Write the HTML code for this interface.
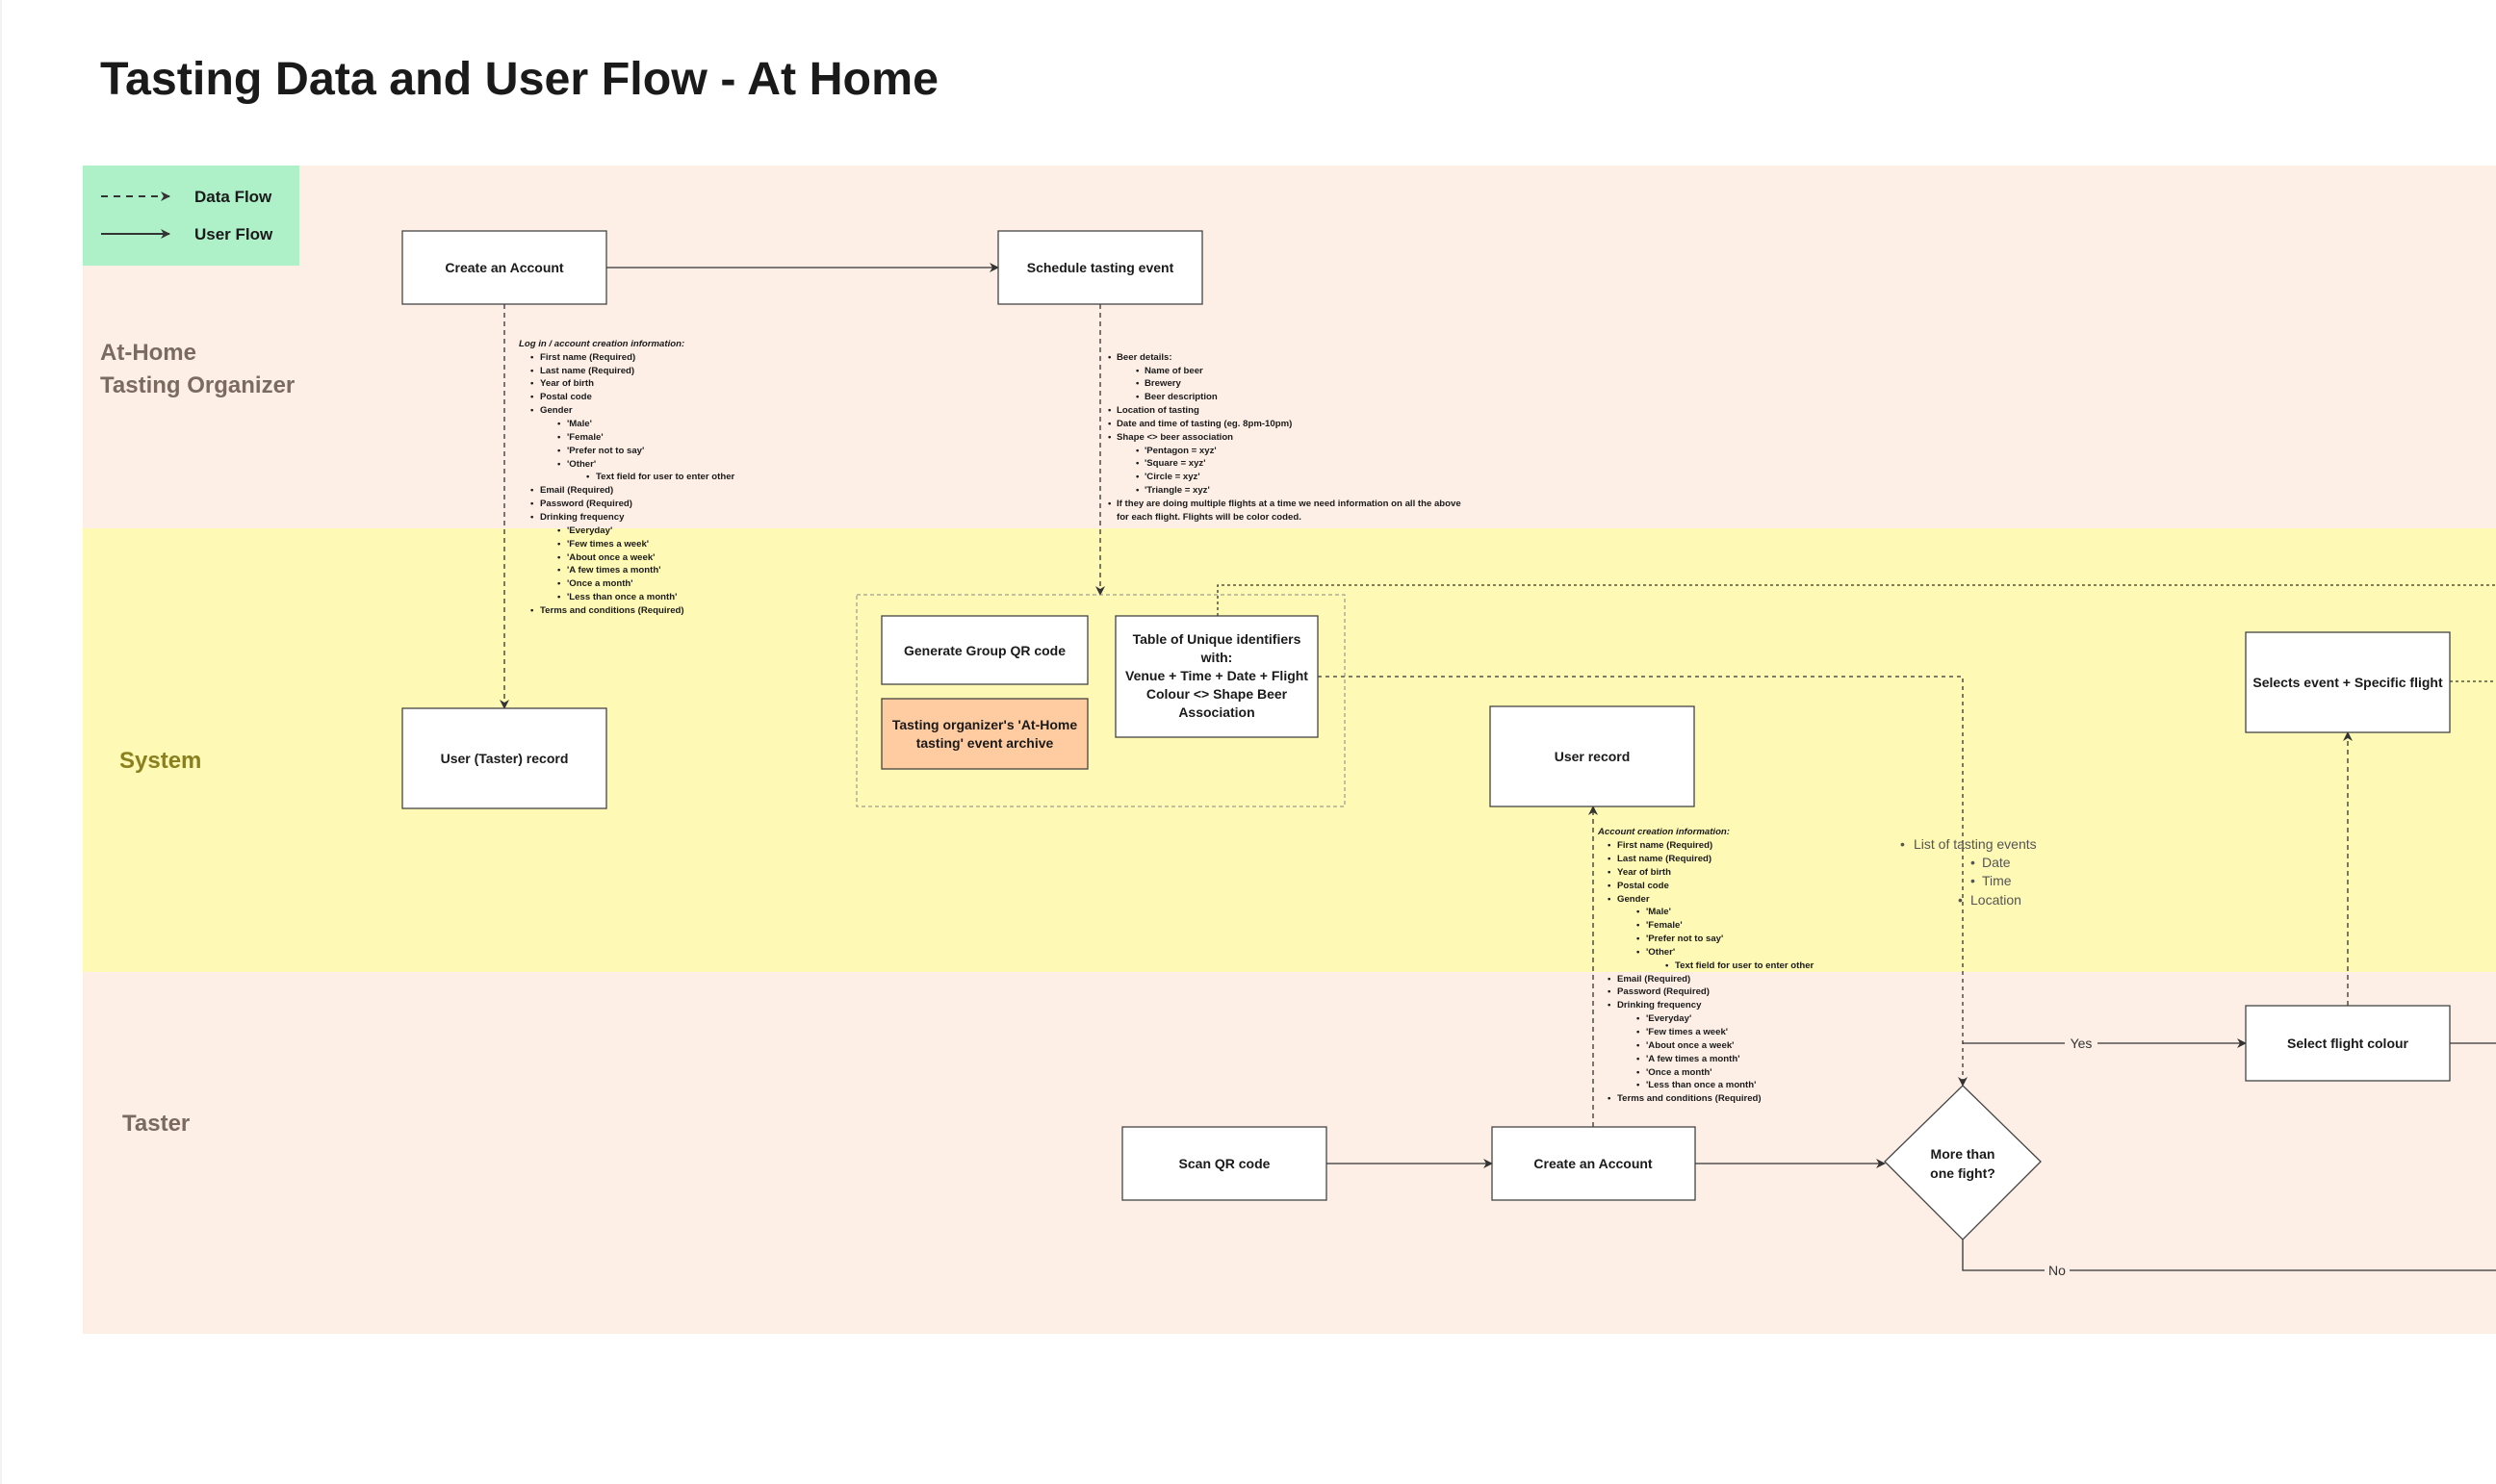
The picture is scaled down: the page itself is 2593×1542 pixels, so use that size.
<!DOCTYPE html>
<html><head><meta charset="utf-8"><style>
html,body{margin:0;padding:0;background:#fff}
svg{display:block}
text{font-family:"Liberation Sans",sans-serif}
.b{font-weight:bold;font-size:14px;fill:#1a1a1a}
.n{font-weight:bold;font-size:9.6px;fill:#1a1a1a}
</style></head><body>
<svg width="2593" height="1542" viewBox="0 0 2593 1542" xmlns="http://www.w3.org/2000/svg">
<defs>
<marker id="a" markerWidth="10" markerHeight="10" refX="9" refY="5" orient="auto" markerUnits="userSpaceOnUse"><path d="M0,0 L10,5 L0,10 L3,5 Z" fill="#333"/></marker>
</defs>
<line x1="1" y1="0" x2="1" y2="1542" stroke="#e6e6e6"/>
<text x="104" y="98" font-size="48" font-weight="bold" fill="#1a1a1a" textLength="871" lengthAdjust="spacingAndGlyphs">Tasting Data and User Flow - At Home</text>
<!-- lanes -->
<rect x="86" y="172" width="2507" height="377" fill="#fdefe6"/>
<rect x="86" y="549" width="2507" height="461" fill="#fef9b4"/>
<rect x="86" y="1010" width="2507" height="376" fill="#fdefe6"/>
<!-- legend -->
<rect x="86" y="172" width="225" height="104" fill="#aef0c8"/>
<line x1="105" y1="204" x2="176" y2="204" stroke="#333" stroke-width="2" stroke-dasharray="7,6" marker-end="url(#a)"/>
<line x1="105" y1="243" x2="176" y2="243" stroke="#333" stroke-width="2" marker-end="url(#a)"/>
<text x="202" y="210" font-size="17" font-weight="bold" fill="#1a1a1a">Data Flow</text>
<text x="202" y="249" font-size="17" font-weight="bold" fill="#1a1a1a">User Flow</text>
<!-- lane labels -->
<text x="104" y="374" font-size="24" font-weight="bold" fill="#7a6a60">At-Home</text>
<text x="104" y="408" font-size="24" font-weight="bold" fill="#7a6a60">Tasting Organizer</text>
<text x="124" y="798" font-size="24" font-weight="bold" fill="#8a8020">System</text>
<text x="127" y="1175" font-size="24" font-weight="bold" fill="#7a6a60">Taster</text>

<!-- connectors -->
<g fill="none" stroke="#333" stroke-width="1.3">
<line x1="630" y1="278" x2="1037" y2="278" marker-end="url(#a)"/>
<line x1="524" y1="316" x2="524" y2="736" stroke-dasharray="5,4" marker-end="url(#a)"/>
<line x1="1143" y1="316" x2="1143" y2="618" stroke-dasharray="5,4" marker-end="url(#a)"/>
<polyline points="1265,640 1265,608 2593,608" stroke-dasharray="3,3"/>
<polyline points="1369,703 2039,703 2039,1128" stroke-dasharray="4,4" marker-end="url(#a)"/>
<polyline points="2545,708 2593,708" stroke-dasharray="3,3"/>
<line x1="2439" y1="1045" x2="2439" y2="761" stroke-dasharray="5,4" marker-end="url(#a)"/>
<line x1="1655" y1="1171" x2="1655" y2="838" stroke-dasharray="5,4" marker-end="url(#a)"/>
<line x1="1378" y1="1209" x2="1550" y2="1209" marker-end="url(#a)"/>
<line x1="1761" y1="1209" x2="1958" y2="1209" marker-end="url(#a)"/>
<line x1="2039" y1="1084" x2="2333" y2="1084" marker-end="url(#a)"/>
<line x1="2545" y1="1084" x2="2593" y2="1084"/>
<polyline points="2039,1288 2039,1320 2593,1320"/>
</g>
<rect x="2145" y="1076" width="34" height="16" fill="#fdefe6"/>
<text x="2162" y="1089" font-size="14" text-anchor="middle" fill="#333">Yes</text>
<rect x="2124" y="1312" width="26" height="16" fill="#fdefe6"/>
<text x="2137" y="1325" font-size="14" text-anchor="middle" fill="#333">No</text>

<!-- group -->
<rect x="890" y="618" width="507" height="220" fill="none" stroke="#888" stroke-dasharray="4,3"/>

<!-- boxes -->
<g stroke="#444" stroke-width="1.3" fill="#fff">
<rect x="418" y="240" width="212" height="76"/>
<rect x="1037" y="240" width="212" height="76"/>
<rect x="418" y="736" width="212" height="104"/>
<rect x="916" y="640" width="214" height="71"/>
<rect x="916" y="726" width="214" height="73" fill="#ffcba0"/>
<rect x="1159" y="640" width="210" height="126"/>
<rect x="1548" y="734" width="212" height="104"/>
<rect x="2333" y="657" width="212" height="104"/>
<rect x="2333" y="1045" width="212" height="78"/>
<rect x="1166" y="1171" width="212" height="76"/>
<rect x="1550" y="1171" width="211" height="76"/>
<polygon points="2039,1128 2120,1207 2039,1288 1958,1207"/>
</g>
<g class="b" text-anchor="middle">
<text x="524" y="283">Create an Account</text>
<text x="1143" y="283">Schedule tasting event</text>
<text x="524" y="793">User (Taster) record</text>
<text x="1023" y="681">Generate Group QR code</text>
<text x="1023" y="758">Tasting organizer's 'At-Home</text>
<text x="1023" y="777">tasting' event archive</text>
<text x="1264" y="669">Table of Unique identifiers</text>
<text x="1264" y="688">with:</text>
<text x="1264" y="707">Venue + Time + Date + Flight</text>
<text x="1264" y="726">Colour &lt;&gt; Shape Beer</text>
<text x="1264" y="745">Association</text>
<text x="1654" y="791">User record</text>
<text x="2439" y="714">Selects event + Specific flight</text>
<text x="2439" y="1089">Select flight colour</text>
<text x="1272" y="1214">Scan QR code</text>
<text x="1655" y="1214">Create an Account</text>
<text x="2039" y="1204">More than</text>
<text x="2039" y="1224">one fight?</text>
</g>

<!-- login notes -->
<g class="n">
<text x="539" y="360" font-style="italic">Log in / account creation information:</text>
<text x="551" y="374">•</text><text x="561" y="374">First name (Required)</text>
<text x="551" y="388">•</text><text x="561" y="388">Last name  (Required)</text>
<text x="551" y="401">•</text><text x="561" y="401">Year of birth</text>
<text x="551" y="415">•</text><text x="561" y="415">Postal code</text>
<text x="551" y="429">•</text><text x="561" y="429">Gender</text>
<text x="579" y="443">•</text><text x="589" y="443">'Male'</text>
<text x="579" y="457">•</text><text x="589" y="457">'Female'</text>
<text x="579" y="471">•</text><text x="589" y="471">'Prefer not to say'</text>
<text x="579" y="485">•</text><text x="589" y="485">'Other'</text>
<text x="609" y="498">•</text><text x="619" y="498">Text field for user to enter other</text>
<text x="551" y="512">•</text><text x="561" y="512">Email (Required)</text>
<text x="551" y="526">•</text><text x="561" y="526">Password  (Required)</text>
<text x="551" y="540">•</text><text x="561" y="540">Drinking frequency</text>
<text x="579" y="554">•</text><text x="589" y="554">'Everyday'</text>
<text x="579" y="568">•</text><text x="589" y="568">'Few times a week'</text>
<text x="579" y="582">•</text><text x="589" y="582">'About once a week'</text>
<text x="579" y="595">•</text><text x="589" y="595">'A few times a month'</text>
<text x="579" y="609">•</text><text x="589" y="609">'Once a month'</text>
<text x="579" y="623">•</text><text x="589" y="623">'Less than once a month'</text>
<text x="551" y="637">•</text><text x="561" y="637">Terms and conditions (Required)</text>
</g>

<!-- beer notes -->
<g class="n">
<text x="1151" y="374">•</text><text x="1160" y="374">Beer details:</text>
<text x="1180" y="388">•</text><text x="1189" y="388">Name of beer</text>
<text x="1180" y="401">•</text><text x="1189" y="401">Brewery</text>
<text x="1180" y="415">•</text><text x="1189" y="415">Beer description</text>
<text x="1151" y="429">•</text><text x="1160" y="429">Location of tasting</text>
<text x="1151" y="443">•</text><text x="1160" y="443">Date and time of tasting (eg. 8pm-10pm)</text>
<text x="1151" y="457">•</text><text x="1160" y="457">Shape &lt;&gt; beer association</text>
<text x="1180" y="471">•</text><text x="1189" y="471">'Pentagon = xyz'</text>
<text x="1180" y="484">•</text><text x="1189" y="484">'Square = xyz'</text>
<text x="1180" y="498">•</text><text x="1189" y="498">'Circle = xyz'</text>
<text x="1180" y="512">•</text><text x="1189" y="512">'Triangle = xyz'</text>
<text x="1151" y="526">•</text><text x="1160" y="526">If they are doing multiple flights at a time we need information on all the above</text>
<text x="1160" y="540">for each flight. Flights will be color coded.</text>
</g>

<!-- account notes -->
<g class="n">
<text x="1660" y="867" font-style="italic">Account creation information:</text>
<text x="1670" y="881">•</text><text x="1680" y="881">First name (Required)</text>
<text x="1670" y="895">•</text><text x="1680" y="895">Last name  (Required)</text>
<text x="1670" y="909">•</text><text x="1680" y="909">Year of birth</text>
<text x="1670" y="923">•</text><text x="1680" y="923">Postal code</text>
<text x="1670" y="937">•</text><text x="1680" y="937">Gender</text>
<text x="1700" y="950">•</text><text x="1710" y="950">'Male'</text>
<text x="1700" y="964">•</text><text x="1710" y="964">'Female'</text>
<text x="1700" y="978">•</text><text x="1710" y="978">'Prefer not to say'</text>
<text x="1700" y="992">•</text><text x="1710" y="992">'Other'</text>
<text x="1730" y="1006">•</text><text x="1740" y="1006">Text field for user to enter other</text>
<text x="1670" y="1020">•</text><text x="1680" y="1020">Email (Required)</text>
<text x="1670" y="1033">•</text><text x="1680" y="1033">Password  (Required)</text>
<text x="1670" y="1047">•</text><text x="1680" y="1047">Drinking frequency</text>
<text x="1700" y="1061">•</text><text x="1710" y="1061">'Everyday'</text>
<text x="1700" y="1075">•</text><text x="1710" y="1075">'Few times a week'</text>
<text x="1700" y="1089">•</text><text x="1710" y="1089">'About once a week'</text>
<text x="1700" y="1103">•</text><text x="1710" y="1103">'A few times a month'</text>
<text x="1700" y="1117">•</text><text x="1710" y="1117">'Once a month'</text>
<text x="1700" y="1130">•</text><text x="1710" y="1130">'Less than once a month'</text>
<text x="1670" y="1144">•</text><text x="1680" y="1144">Terms and conditions (Required)</text>
</g>

<!-- list of events -->
<g font-size="14" fill="#555">
<text x="1974" y="882">•</text><text x="1988" y="882">List of tasting events</text>
<text x="2047" y="901">•</text><text x="2059" y="901">Date</text>
<text x="2047" y="920">•</text><text x="2059" y="920">Time</text>
<text x="2034" y="940">•</text><text x="2047" y="940">Location</text>
</g>
</svg>
</body></html>
